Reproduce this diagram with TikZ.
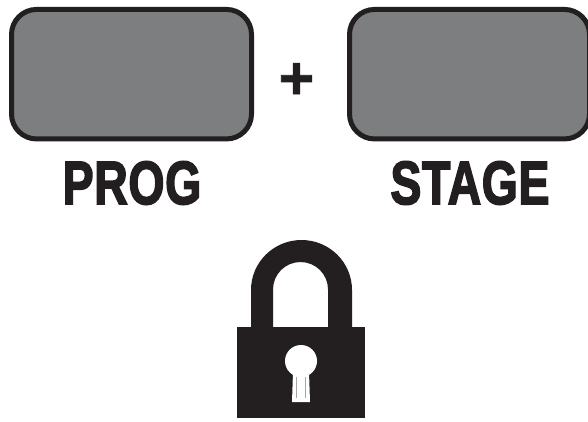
\documentclass[tikz,border=0pt]{standalone}
\usepackage{fontspec}
\newfontfamily\plusfont[FakeBold=1.2]{Liberation Sans Bold}
\newfontfamily\labelfont[FakeBold=3,LetterSpace=1.5]{Liberation Sans Bold}
\definecolor{keygrey}{HTML}{7C7E80}
\definecolor{inkblack}{HTML}{231F20}
\tikzset{
  keybox/.style={draw=inkblack,fill=keygrey,line width=5pt,rounded corners=25pt,inner sep=0pt},
  keylabel/.style={text=inkblack,font=\labelfont\fontsize{61}{61}\selectfont,inner sep=0pt,xscale=0.76},
  lockpart/.style={fill=inkblack,draw=none},
  holepart/.style={fill=white,draw=none}
}
\begin{document}
\begin{tikzpicture}[x=1pt,y=-1pt]
\path[use as bounding box,clip] (0,0) rectangle (588,421);
\fill[white] (0,0) rectangle (588,421);
\node[keybox,minimum width=240pt,minimum height=129.5pt] (prog) at (131.5,74.2) {};
\node[keybox,minimum width=240pt,minimum height=129.5pt] (stage) at (469.5,74.2) {};
\node[text=inkblack,font=\plusfont\fontsize{61}{61}\selectfont,inner sep=0pt] (plus) at (296.5,81) {+};
\node[keylabel] (proglabel) at (132,183) {PROG};
\node[keylabel] (stagelabel) at (470,183) {STAGE};
% padlock
\fill[lockpart,even odd rule] (251,330) -- (251,290) arc[start angle=180,end angle=0,x radius=50.5,y radius=-50] -- (352,330) -- cycle
  (273,330) -- (273,289.5) arc[start angle=180,end angle=0,x radius=27.5,y radius=-27.5] -- (328,330) -- cycle;
\fill[lockpart] (237,327) rectangle (365,418);
\fill[holepart] (301,361) circle[radius=16];
\fill[holepart] (293,372) -- (309,372) -- (310,402) -- (292,402) -- cycle;
\draw[black!35,line width=.7pt] (296,377) -- (296,398) (305.5,377) -- (305.5,398);
\end{tikzpicture}
\end{document}
